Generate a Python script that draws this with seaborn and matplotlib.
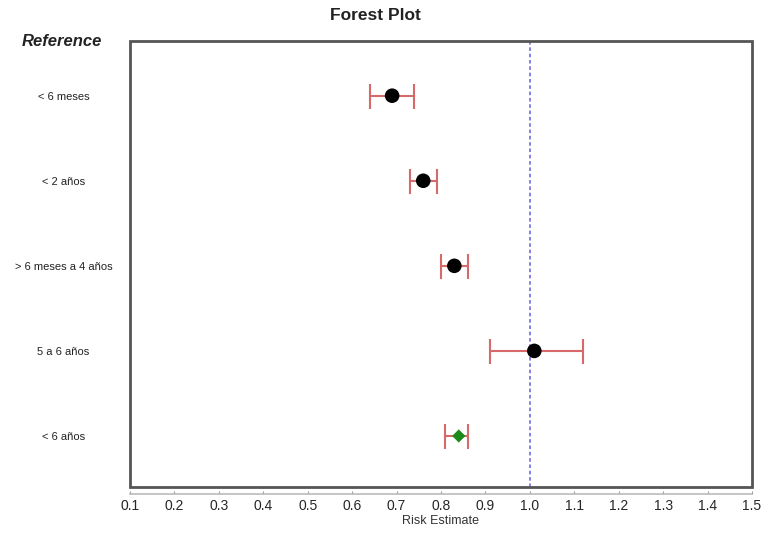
import seaborn as sns
import matplotlib.pyplot as plt
import numpy as np
import pandas as pd
from matplotlib.patches import Rectangle

# datos del forest plot
grupos = ['< 6 meses', '< 2 años', '> 6 meses a 4 años', '5 a 6 años', '< 6 años']
estimado = [0.69, 0.76, 0.83, 1.01, 0.84]
ic_inf = [0.64, 0.73, 0.80, 0.91, 0.81]
ic_sup = [0.74, 0.79, 0.86, 1.12, 0.86]
tipo = ['estudio', 'estudio', 'estudio', 'estudio', 'global']
x_ticks = [0.1, 0.2, 0.3, 0.4, 0.5, 0.6, 0.7, 0.8, 0.9, 1.0, 1.1, 1.2, 1.3, 1.4, 1.5]

df = pd.DataFrame({'grupo': grupos, 'est': estimado, 'lo': ic_inf, 'hi': ic_sup, 'tipo': tipo})
df['pos'] = np.arange(len(df))

sns.set_style("white")
plt.rcParams['font.family'] = ['Liberation Sans', 'DejaVu Sans']

fig = plt.figure(figsize=(7.65, 5.33), dpi=100)
ax = fig.add_axes([130 / 765, 1 - 487 / 533, 622 / 765, 446 / 533])

# intervalos de confianza
ax.errorbar(df['est'], df['pos'],
            xerr=[df['est'] - df['lo'], df['hi'] - df['est']],
            fmt='none', ecolor='#d66a6a', elinewidth=1.5, capsize=9, capthick=1.5, zorder=2)

# línea de referencia en 1.0
ax.axvline(1.0, color='#7b7be0', linestyle=(0, (2, 1.5)), linewidth=1.3, zorder=1)

# estudios (círculos) y estimado global (diamante)
est_df = df[df['tipo'] == 'estudio']
glob_df = df[df['tipo'] == 'global']
sns.scatterplot(data=est_df, x='est', y='pos', color='black', marker='o',
                s=110, edgecolor='none', legend=False, ax=ax, zorder=3)
sns.scatterplot(data=glob_df, x='est', y='pos', color='#1a8a1a', marker='D',
                s=45, edgecolor='none', legend=False, ax=ax, zorder=3)

ax.set_xlim(0.1, 1.5)
ax.set_ylim(4.6, -0.643)
ax.set_yticks(df['pos'])
ax.set_yticklabels(grupos, ha='center', fontsize=8, color='#222222')
ax.tick_params(axis='y', length=0, pad=48)
ax.set_xticks(x_ticks)
ax.set_xticklabels([f'{v:.1f}' for v in x_ticks], fontsize=8, color='#333333')
ax.tick_params(axis='x', bottom=True, length=2, width=0.8, color='#999999',
               direction='in', pad=4)
ax.set_xlabel('Risk Estimate', fontsize=9, color='#333333', labelpad=1)
ax.set_ylabel('')

for s in ['top', 'left', 'right']:
    ax.spines[s].set_visible(False)
ax.spines['bottom'].set_position(('outward', 5))
ax.spines['bottom'].set_color('#bbbbbb')
ax.spines['bottom'].set_linewidth(1.2)

# marco del área del gráfico
ax.add_patch(Rectangle((0, 0), 1, 1, transform=ax.transAxes, fill=False,
                       edgecolor='#555555', linewidth=2, clip_on=False, zorder=5))

fig.text(375 / 765, 1 - 15 / 533, 'Forest Plot', ha='center', va='center',
         fontsize=12.5, fontweight='bold', color='#222222')
fig.text(62 / 765, 1 - 41 / 533, 'Reference', ha='center', va='center',
         fontsize=12, fontweight='bold', fontstyle='italic', color='#222222')

fig.savefig('out.png', dpi=100)
